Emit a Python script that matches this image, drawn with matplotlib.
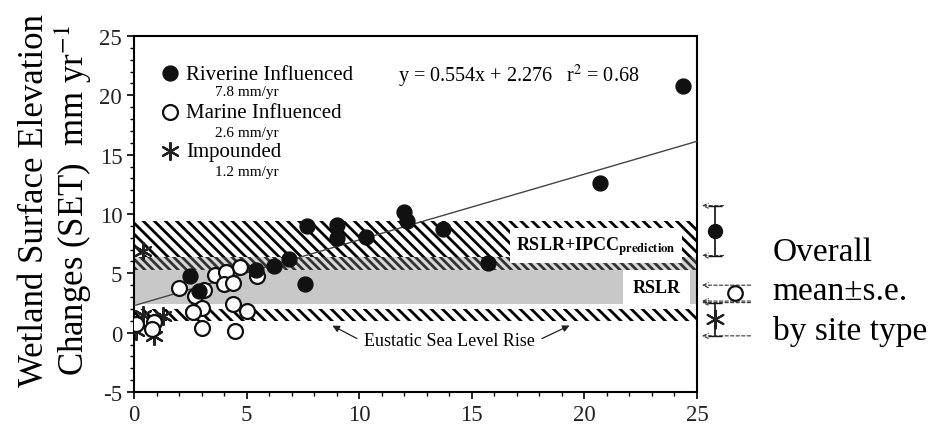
import matplotlib.pyplot as plt
from matplotlib.ticker import MultipleLocator

# SET change vs. rate (mm/yr)
riverine_x = [24.4, 20.7, 15.7, 13.7, 12.0, 12.1, 10.3, 9.0, 9.0, 7.7, 7.6, 6.9, 6.2, 5.4, 2.5, 2.9]
riverine_y = [20.8, 12.6, 5.9, 8.7, 10.2, 9.4, 8.1, 9.1, 8.0, 9.0, 4.1, 6.2, 5.6, 5.3, 4.8, 3.5]

marine_x = [2.0, 2.7, 3.1, 3.0, 2.6, 3.0, 3.6, 4.1, 4.7, 4.0, 4.4, 4.4, 5.0, 4.5, 5.45, 0.1, 0.9, 0.8]
marine_y = [3.8, 3.1, 3.6, 2.1, 1.7, 0.4, 4.9, 5.1, 5.5, 4.1, 4.2, 2.4, 1.8, 0.15, 4.8, 0.7, 0.9, 0.3]

impounded_x = [0.4, 0.4, 1.3, 0.9, 0.1]
impounded_y = [6.9, 1.5, 1.4, -0.3, 0.1]

fit_slope = 0.554
fit_intercept = 2.276
fit_x = [0, 25]

# overall mean +- s.e. by site type
riverine_mean, riverine_se = 8.6, 2.1
marine_mean, marine_se = 3.33, 0.67
impounded_mean, impounded_se = 1.13, 1.4

# reference bands (mm/yr)
eustatic_band = (1.0, 2.0)
rslr_band = (2.4, 5.3)
ipcc_fine_band = (5.3, 6.4)
ipcc_band = (6.4, 9.4)

plt.rcParams['font.family'] = ['Liberation Serif', 'DejaVu Serif']
plt.rcParams['mathtext.fontset'] = 'stix'
plt.rcParams['hatch.linewidth'] = 2.0
plt.rcParams['axes.unicode_minus'] = False

fig = plt.figure(figsize=(9.4, 4.31), dpi=100)
ax = fig.add_axes([0.1426, 0.0882, 0.5989, 0.826])

ax.axhspan(*rslr_band, facecolor='#c8c8c8', edgecolor='none', zorder=1)
ax.axhspan(*ipcc_fine_band, facecolor='#d8d8d8', edgecolor='#333333', hatch='\\\\\\\\', linewidth=0, zorder=1)
ax.axhspan(*ipcc_band, facecolor='white', edgecolor='black', hatch='\\\\\\', linewidth=0, zorder=1)
ax.axhspan(*eustatic_band, facecolor='white', edgecolor='black', hatch='\\\\\\', linewidth=0, zorder=1)

ax.text(20.5, 7.35, r'RSLR+IPCC$_{\mathbf{prediction}}$', fontsize=13, fontweight='bold',
        ha='center', va='center', zorder=2,
        bbox=dict(boxstyle='square,pad=0.35', facecolor='white', edgecolor='none'))
ax.text(23.2, 3.83, 'RSLR', fontsize=13, fontweight='bold', ha='center', va='center', zorder=2,
        bbox=dict(boxstyle='square,pad=0.5', facecolor='white', edgecolor='none'))

ax.text(14.0, -0.7, 'Eustatic Sea Level Rise', fontsize=13, ha='center', va='center', zorder=2)
ax.annotate('', xy=(8.7, 0.7), xytext=(10.0, -0.6),
            arrowprops=dict(arrowstyle='-|>', lw=0.9, color='#222222', mutation_scale=10), zorder=2)
ax.annotate('', xy=(19.45, 0.7), xytext=(18.0, -0.6),
            arrowprops=dict(arrowstyle='-|>', lw=0.9, color='#222222', mutation_scale=10), zorder=2)

fit_y = [fit_slope * x + fit_intercept for x in fit_x]
ax.plot(fit_x, fit_y, color='#444444', lw=1.0, zorder=3)

h_imp = ax.scatter(impounded_x, impounded_y, marker=(6, 2, 0), s=150, color='#222222',
                   linewidths=1.6, zorder=4, label='Impounded')
h_mar = ax.scatter(marine_x, marine_y, marker='o', s=115, facecolors='white', edgecolors='#111111',
                   linewidths=1.6, zorder=5, label='Marine Influenced')
h_riv = ax.scatter(riverine_x, riverine_y, marker='o', s=115, color='#111111', zorder=6,
                   label='Riverine Influenced')

leg = ax.legend(handles=[h_riv, h_mar, h_imp], loc='upper left', bbox_to_anchor=(0.0455, 0.9215),
                frameon=False, fontsize=15, handlelength=1.0, handletextpad=0.27,
                labelspacing=0.92, borderpad=0, borderaxespad=0, scatterpoints=1)
for t, s in zip([0.843, 0.730, 0.618], ['7.8 mm/yr', '2.6 mm/yr', '1.2 mm/yr']):
    ax.text(0.2007, t, s, transform=ax.transAxes, fontsize=11, ha='center', va='center')

ax.text(0.469, 0.89, r'y = 0.554x + 2.276   r$^2$ = 0.68', transform=ax.transAxes,
        fontsize=14.5, ha='left', va='center')

# overall means outside the frame
for xpos, m, se, style in [(25.8, riverine_mean, riverine_se, dict(fmt='o', color='#111111', ms=10)),
                          (25.8, impounded_mean, impounded_se,
                           dict(fmt='None', color='#111111'))]:
    eb = ax.errorbar([xpos], [m], yerr=[se], capsize=5, elinewidth=1.2, capthick=1.0, **style)
    for art in eb.get_children():
        art.set_clip_on(False)
ax.scatter([25.8], [impounded_mean], marker=(6, 2, 0), s=170, color='#222222', linewidths=1.5,
           clip_on=False, zorder=6)
ax.scatter([26.7], [marine_mean], marker='o', s=110, facecolors='white', edgecolors='#111111',
           linewidths=1.6, clip_on=False, zorder=6)

arrow_kw = dict(arrowstyle='->', lw=0.8, ls=(0, (3, 2)), color='#333333', mutation_scale=9)
for y, x0 in [(riverine_mean + riverine_se, 26.3), (riverine_mean - riverine_se, 26.3),
              (marine_mean + marine_se, 27.5), (marine_mean - marine_se, 27.5),
              (impounded_mean + impounded_se, 27.5), (impounded_mean - impounded_se, 27.5)]:
    ax.annotate('', xy=(25.1, y), xytext=(x0, y), arrowprops=arrow_kw, annotation_clip=False)

fig.text(0.822, 0.322, 'Overall\nmean\u00b1s.e.\nby site type', fontsize=24, ha='left', va='center',
         linespacing=1.38)

ax.set_xlim(0, 25)
ax.set_ylim(-5, 25)
ax.xaxis.set_major_locator(MultipleLocator(5))
ax.yaxis.set_major_locator(MultipleLocator(5))
ax.xaxis.set_minor_locator(MultipleLocator(1))
ax.yaxis.set_minor_locator(MultipleLocator(1))
ax.tick_params(which='major', direction='out', length=5, width=1.2, labelsize=16.5, labelcolor='#222222')
ax.tick_params(which='minor', direction='out', length=3, width=1.0)
for sp in ax.spines.values():
    sp.set_linewidth(1.5)

fig.text(0.0595, 0.535, 'Wetland Surface Elevation\nChanges (SET)  mm yr$^{-1}$', rotation=90,
         fontsize=25, ha='center', va='center', multialignment='center', linespacing=1.05)

fig.savefig('out.png', dpi=100)
